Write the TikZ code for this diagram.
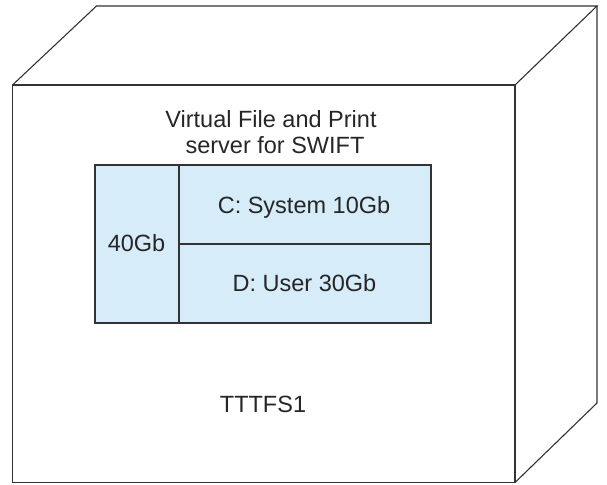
\documentclass[tikz,border=0pt]{standalone}
\usepackage{fontspec}
\setmainfont{Liberation Sans}
\definecolor{cellblue}{HTML}{D6ECF8}
\definecolor{edge}{HTML}{333333}
\begin{document}
\begin{tikzpicture}[x=1pt,y=-1pt,
  edgeline/.style={draw=edge,line width=1.1pt,line join=miter},
  lbl/.style={font=\fontsize{23.5}{26}\selectfont,text=black!85,inner sep=0pt,anchor=base},
  cell/.style={edgeline,fill=cellblue}]
\useasboundingbox (0,0) rectangle (607,484);
% cube
\coordinate (fTL) at (12.5,85);
\coordinate (fTR) at (515,85);
\coordinate (fBR) at (515,482.5);
\coordinate (fBL) at (12.5,482.5);
\coordinate (bTL) at (96.5,6);
\coordinate (bTR) at (597,6);
\coordinate (bBR) at (597,403);
\draw[edgeline] (fTL) rectangle (fBR);
\draw[edgeline] (fTL) -- (bTL) -- (bTR) -- (fTR);
\draw[edgeline] (bTR) -- (bBR) -- (fBR);
% inner table
\draw[cell] (95,165) rectangle (431,323);
\draw[edgeline] (179,165) -- (179,323);
\draw[edgeline] (179,244) -- (431,244);
% text
\node[lbl] (title1) at (271,128) {Virtual File and Print};
\node[lbl] (title2) at (275,153) {server for SWIFT};
\node[lbl] (size) at (136.5,251.5) {40Gb};
\node[lbl] (c) at (304,213) {C: System 10Gb};
\node[lbl] (d) at (304.5,291.5) {D: User 30Gb};
\node[lbl] (name) at (263,412) {TTTFS1};
\end{tikzpicture}
\end{document}
